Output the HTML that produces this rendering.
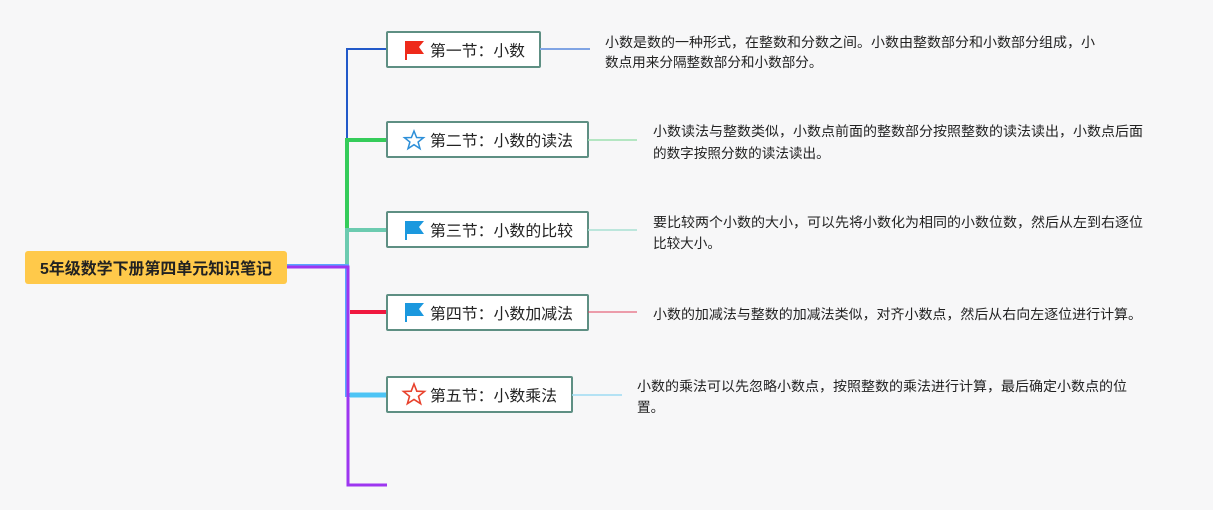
<!DOCTYPE html>
<html><head><meta charset="utf-8"><style>
html,body{margin:0;padding:0;background:#f7f7f8;}
svg{display:block;font-family:"Liberation Sans","Noto Sans CJK SC",sans-serif;}
.n{fill:#fff;stroke:#5e8f83;stroke-width:2;}
.t{font-size:15.6px;fill:#222;}
.d{font-size:13.6px;fill:#222;}
</style></head><body>
<svg width="1213" height="510" viewBox="0 0 1213 510">
<rect width="1213" height="510" fill="#f7f7f8"/>
<path d="M387 49 H347 V140" fill="none" stroke="#2259c9" stroke-width="2"/>
<path d="M387 140 H347 V230" fill="none" stroke="#35cc5a" stroke-width="4"/>
<path d="M387 230 H347 V266" fill="none" stroke="#6ccbb0" stroke-width="4"/>
<path d="M287 266 H347 V395 H387" fill="none" stroke="#5aa6ff" stroke-width="4"/>
<line x1="350" y1="312" x2="387" y2="312" stroke="#f0183f" stroke-width="4"/>
<line x1="350" y1="395" x2="387" y2="395" stroke="#4dc4f5" stroke-width="5"/>
<path d="M287 267 H348 V485 H387" fill="none" stroke="#9d36f0" stroke-width="3"/>
<rect x="25" y="251" width="262" height="33" rx="3" fill="#ffc94a"/>
<text x="156" y="274" text-anchor="middle" font-size="16" font-weight="bold" fill="#222" textLength="232" lengthAdjust="spacingAndGlyphs">5年级数学下册第四单元知识笔记</text>
<rect class="n" x="387" y="32" width="153" height="35" rx="1"/>
<path d="M405 41 H424 L419 47 L424 54 H407 V60 H405Z" fill="#ee2a1a"/>
<text class="t" x="430" y="56" textLength="95" lengthAdjust="spacingAndGlyphs">第一节：小数</text>
<rect class="n" x="387" y="122" width="201" height="35" rx="1"/>
<path d="M414 131 L416.6 137.5 L423.5 137.7 L418.1 142 L420 148.6 L414 144.7 L408 148.6 L409.9 142 L404.5 137.7 L411.4 137.5Z" fill="none" stroke="#2d8fd8" stroke-width="1.5"/>
<text class="t" x="430" y="146" textLength="143" lengthAdjust="spacingAndGlyphs">第二节：小数的读法</text>
<rect class="n" x="387" y="212" width="201" height="35" rx="1"/>
<path d="M405 221 H424 L419 227 L424 234 H407 V240 H405Z" fill="#1b98de"/>
<text class="t" x="430" y="236" textLength="143" lengthAdjust="spacingAndGlyphs">第三节：小数的比较</text>
<rect class="n" x="387" y="295" width="201" height="35" rx="1"/>
<path d="M405 303 H424 L419 309 L424 316 H407 V322 H405Z" fill="#1b98de"/>
<text class="t" x="430" y="319" textLength="143" lengthAdjust="spacingAndGlyphs">第四节：小数加减法</text>
<rect class="n" x="387" y="377" width="185" height="35" rx="1"/>
<path d="M414 384 L416.8 391.2 L424.5 391.5 L418.5 396.3 L420.6 403.7 L414 399.4 L407.4 403.7 L409.5 396.3 L403.5 391.5 L411.2 391.2Z" fill="none" stroke="#e8412c" stroke-width="1.6"/>
<text class="t" x="430" y="401" textLength="127" lengthAdjust="spacingAndGlyphs">第五节：小数乘法</text>
<line x1="540" y1="49" x2="590" y2="49" stroke="#80a4e4" stroke-width="2"/>
<line x1="588" y1="140" x2="637" y2="140" stroke="#9ee0b0" stroke-width="1.5"/>
<line x1="588" y1="230" x2="637" y2="230" stroke="#a9e0d2" stroke-width="1.5"/>
<line x1="588" y1="312" x2="637" y2="312" stroke="#e0405c" stroke-width="1"/>
<line x1="572" y1="395" x2="622" y2="395" stroke="#9edcf2" stroke-width="1.5"/>
<text class="d" x="605" y="47" textLength="490" lengthAdjust="spacingAndGlyphs">小数是数的一种形式，在整数和分数之间。小数由整数部分和小数部分组成，小</text>
<text class="d" x="605" y="67">数点用来分隔整数部分和小数部分。</text>
<text class="d" x="653" y="136" textLength="490" lengthAdjust="spacingAndGlyphs">小数读法与整数类似，小数点前面的整数部分按照整数的读法读出，小数点后面</text>
<text class="d" x="653" y="158">的数字按照分数的读法读出。</text>
<text class="d" x="653" y="227" textLength="490" lengthAdjust="spacingAndGlyphs">要比较两个小数的大小，可以先将小数化为相同的小数位数，然后从左到右逐位</text>
<text class="d" x="653" y="248">比较大小。</text>
<text class="d" x="653" y="319" textLength="489" lengthAdjust="spacingAndGlyphs">小数的加减法与整数的加减法类似，对齐小数点，然后从右向左逐位进行计算。</text>
<text class="d" x="637" y="391" textLength="490" lengthAdjust="spacingAndGlyphs">小数的乘法可以先忽略小数点，按照整数的乘法进行计算，最后确定小数点的位</text>
<text class="d" x="637" y="412">置。</text>
</svg>
</body></html>
